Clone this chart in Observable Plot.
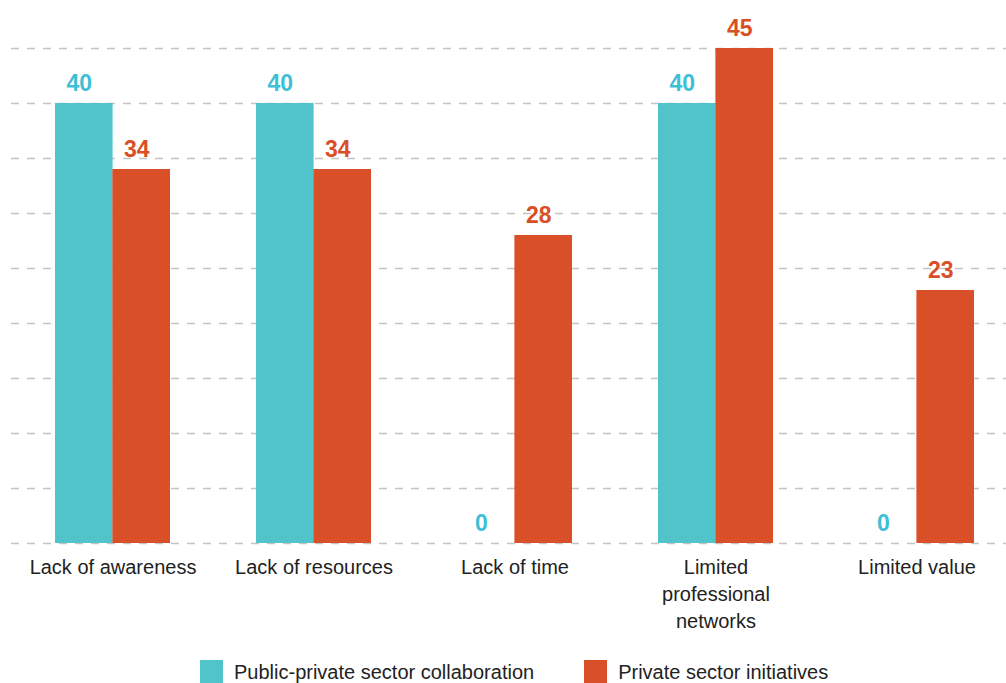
<!DOCTYPE html>
<html>
<head>
<meta charset="utf-8">
<script src="https://cdn.jsdelivr.net/npm/d3@7"></script>
<script src="https://cdn.jsdelivr.net/npm/@observablehq/plot@0.6"></script>
<style>
  html, body { margin: 0; padding: 0; background: #fff; }
  #chart { width: 1006px; overflow: hidden; }
  .legend { display: flex; align-items: center; padding-left: 200px; height: 23px; padding-top: 10px;
    font-family: "Liberation Sans", Arial, sans-serif; font-size: 20px; line-height: 1; color: #222; }
  .legend .item { display: flex; align-items: center; margin-right: 50px; }
  .legend .sw { width: 23px; height: 23px; margin-right: 11px; }
</style>
</head>
<body>
<div id="chart"></div>
<script>
const categories = ["Lack of awareness", "Lack of resources", "Lack of time", "Limited professional networks", "Limited value"];
const categoryLabels = ["Lack of awareness", "Lack of resources", "Lack of time", "Limited\nprofessional\nnetworks", "Limited value"];
const seriesNames = ["Public-private sector collaboration", "Private sector initiatives"];
const publicPrivate = [40, 40, 0, 40, 0];
const privateSector = [34, 34, 28, 45, 23];
const yTicks = [0, 5, 10, 15, 20, 25, 30, 35, 40, 45];

const barColors = ["#50C3CB", "#D94F27"];
const textColors = ["#3DBFD6", "#D94F27"];

const dataA = categories.map((c, i) => ({category: c, value: publicPrivate[i]}));
const dataB = categories.map((c, i) => ({category: c, value: privateSector[i]}));
const labelData = categories.map((c, i) => ({category: c, label: categoryLabels[i]}));

const W = 1006, H = 650;
const xRange = [11, 1018];
const bandwidth = (xRange[1] - xRange[0]) / 5 * 0.57;
const half = bandwidth / 2;
const font = "'Liberation Sans', Arial, sans-serif";

const plot = Plot.plot({
  width: W,
  height: H,
  marginTop: 48,
  marginLeft: 11,
  marginRight: 0,
  marginBottom: H - 543,
  style: {fontFamily: font, background: "#fff"},
  x: {domain: categories, range: xRange, paddingInner: 0.43, paddingOuter: 0.215, axis: null},
  y: {domain: [0, 45], axis: null},
  marks: [
    Plot.ruleY(yTicks, {stroke: "#c4c4c4", strokeWidth: 1.5, strokeDasharray: "8,8"}),
    Plot.barY(dataA, {x: "category", y: "value", fill: barColors[0], insetRight: half}),
    Plot.barY(dataB, {x: "category", y: "value", fill: barColors[1], insetLeft: half}),
    Plot.text(dataA, {x: "category", y: "value", text: d => String(d.value), dx: -half / 2 - 5, dy: -13,
      lineAnchor: "bottom", fill: textColors[0], fontSize: 23, fontWeight: "bold"}),
    Plot.text(dataB, {x: "category", y: "value", text: d => String(d.value), dx: half / 2 - 5, dy: -13,
      lineAnchor: "bottom", fill: textColors[1], fontSize: 23, fontWeight: "bold"}),
    Plot.text(labelData, {x: "category", frameAnchor: "bottom", text: "label", lineAnchor: "top",
      dy: 11, fontSize: 20, lineHeight: 1.35, fill: "#222"})
  ]
});
document.getElementById("chart").appendChild(plot);

const legend = document.createElement("div");
legend.className = "legend";
seriesNames.forEach((name, i) => {
  const item = document.createElement("div");
  item.className = "item";
  const sw = document.createElement("span");
  sw.className = "sw";
  sw.style.background = barColors[i];
  const t = document.createElement("span");
  t.textContent = name;
  item.appendChild(sw);
  item.appendChild(t);
  legend.appendChild(item);
});
document.body.appendChild(legend);
</script>
</body>
</html>
